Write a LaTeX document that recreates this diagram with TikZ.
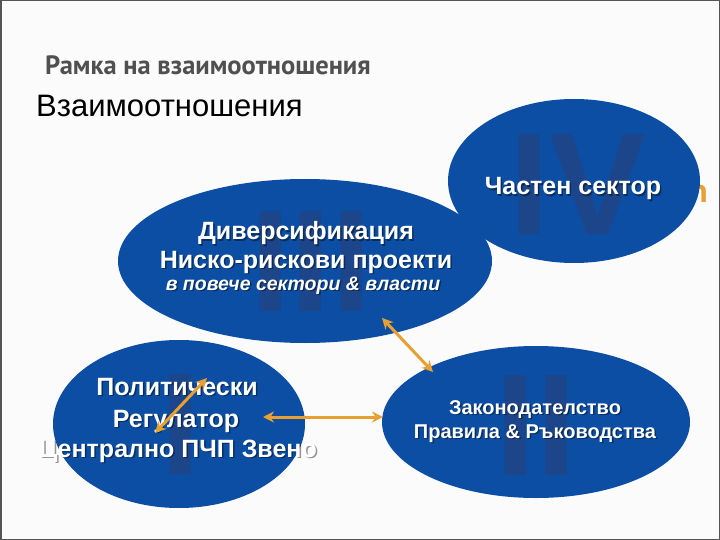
\documentclass[tikz,border=0pt]{standalone}
\usepackage{fontspec}
\setmainfont{Liberation Sans}
\newfontfamily\titlefont{PT Sans}
\usetikzlibrary{arrows.meta,shapes.geometric}
\definecolor{bgwhite}{HTML}{FBFBFB}
\definecolor{ellblue}{HTML}{0B4EA3}
\definecolor{numblue}{HTML}{1D4589}
\definecolor{arrorange}{HTML}{E9A033}
\definecolor{titlegray}{HTML}{505050}
\definecolor{framegray}{HTML}{555555}
\tikzset{
  ell/.style 2 args={ellipse, fill=ellblue, draw=none, inner sep=0pt,
    minimum width=#1, minimum height=#2},
  numeral/.style={inner sep=0pt, text=numblue,
    font=\fontsize{145}{145}\selectfont\bfseries},
  txt/.style={inner sep=0pt, anchor=base, text=white},
  txtshadow/.style={inner sep=0pt, anchor=base, text=black, text opacity=0.4, xshift=1.5pt, yshift=-1.5pt},
  orarrow/.style={draw=arrorange, line width=3pt, {Stealth[length=11pt,width=11pt]}-{Stealth[length=11pt,width=11pt]}},
}
\newcommand\shtext[4]{%
  \node[txtshadow, font=#3] (#1s) at (#2) {#4};
  \node[txt, font=#3] (#1) at (#2) {#4};}
\begin{document}
\begin{tikzpicture}[x=1pt, y=-1pt]
\useasboundingbox (0,0) rectangle (720,540);
\fill[bgwhite] (0,0) rectangle (720,540);
\draw[framegray, line width=1.5pt] (0.75,0.75) rectangle (719.25,539.25);

% title texts
\node[inner sep=0pt, anchor=base west, text=titlegray,
  font=\titlefont\bfseries\fontsize{26.5}{30}\selectfont] (title) at (45,75) {Рамка на взаимоотношения};
\node[inner sep=0pt, anchor=base west, text=black,
  font=\fontsize{31}{34}\selectfont] (subtitle) at (36,117) {Взаимоотношения};

% hidden orange text fragment
\node[inner sep=0pt, anchor=base east, text=arrorange,
  font=\bfseries\fontsize{32}{36}\selectfont] (frag) at (708,203) {n};

% ellipses
\node[ell={252pt}{164pt}] (e4) at (574,181) {};
\node[ell={374pt}{164pt}] (e3) at (305,261) {};
\node[ell={252pt}{168pt}] (e1) at (179,424) {};
\node[ell={308pt}{152pt}] (e2) at (536,422) {};

% roman numerals
\node[numeral] (n4) at (578,185) {IV};
\node[numeral] (n3) at (311,262) {III};
\node[numeral] (n1) at (181,425) {I};
\node[numeral] (n2) at (536,426) {II};

% texts
\shtext{t4}{573,195}{\bfseries\fontsize{25}{28}\selectfont}{Частен сектор}
\shtext{t3a}{306,240}{\bfseries\fontsize{25}{28}\selectfont}{Диверсификация}
\shtext{t3b}{306,268}{\bfseries\fontsize{25}{28}\selectfont}{Ниско-рискови проекти}
\shtext{t3c}{303,290}{\bfseries\itshape\fontsize{19.5}{22}\selectfont}{в повече сектори \& власти}
\shtext{t1a}{177,395}{\bfseries\fontsize{25}{28}\selectfont}{Политически}
\shtext{t1b}{176,427}{\bfseries\fontsize{25}{28}\selectfont}{Регулатор}
\shtext{t1c}{178,457}{\bfseries\fontsize{25}{28}\selectfont}{Централно ПЧП Звено}
\shtext{t2a}{535,414}{\bfseries\fontsize{20}{22}\selectfont}{Законодателство}
\shtext{t2b}{535,438}{\bfseries\fontsize{20}{22}\selectfont}{Правила \& Ръководства}

% arrows
\coordinate (a1) at (382,318);
\coordinate (a2) at (433,372);
\coordinate (b1) at (263,417);
\coordinate (b2) at (383,417);
\coordinate (c1) at (207,378);
\coordinate (c2) at (155,433);
\draw[orarrow] (a1) -- (a2);
\draw[orarrow] (b1) -- (b2);
\draw[orarrow] (c1) -- (c2);
\end{tikzpicture}
\end{document}
